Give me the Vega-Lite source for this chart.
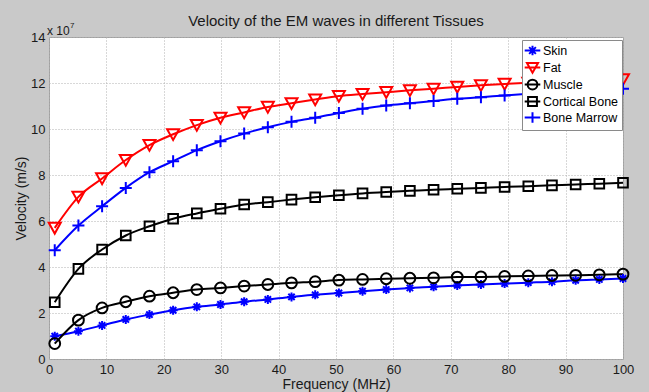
{
  "$schema": "https://vega.github.io/schema/vega-lite/v6.json",
  "width": 574,
  "height": 322,
  "autosize": {"type": "none"},
  "padding": {"left": 49, "top": 37, "right": 26, "bottom": 33},
  "background": "#c9c9c9",
  "title": {"text": "Velocity of the EM waves in different Tissues", "fontSize": 15, "font": "Liberation Sans", "fontWeight": "normal", "color": "#1a1a1a", "offset": -7, "anchor": "middle"},
  "data": {"values": [
    {"s":"Skin","f":1,"v":0.99},{"s":"Skin","f":5.125,"v":1.21},{"s":"Skin","f":9.25,"v":1.46},{"s":"Skin","f":13.375,"v":1.72},{"s":"Skin","f":17.5,"v":1.93},{"s":"Skin","f":21.625,"v":2.12},{"s":"Skin","f":25.75,"v":2.27},{"s":"Skin","f":29.875,"v":2.37},{"s":"Skin","f":34,"v":2.49},{"s":"Skin","f":38.125,"v":2.59},{"s":"Skin","f":42.25,"v":2.7},{"s":"Skin","f":46.375,"v":2.79},{"s":"Skin","f":50.5,"v":2.87},{"s":"Skin","f":54.625,"v":2.95},{"s":"Skin","f":58.75,"v":3.02},{"s":"Skin","f":62.875,"v":3.09},{"s":"Skin","f":67,"v":3.14},{"s":"Skin","f":71.125,"v":3.2},{"s":"Skin","f":75.25,"v":3.24},{"s":"Skin","f":79.375,"v":3.28},{"s":"Skin","f":83.5,"v":3.32},{"s":"Skin","f":87.625,"v":3.36},{"s":"Skin","f":91.75,"v":3.42},{"s":"Skin","f":95.875,"v":3.46},{"s":"Skin","f":100,"v":3.5},
    {"s":"Fat","f":1,"v":5.7},{"s":"Fat","f":5.125,"v":7.05},{"s":"Fat","f":9.25,"v":7.85},{"s":"Fat","f":13.375,"v":8.65},{"s":"Fat","f":17.5,"v":9.3},{"s":"Fat","f":21.625,"v":9.77},{"s":"Fat","f":25.75,"v":10.17},{"s":"Fat","f":29.875,"v":10.49},{"s":"Fat","f":34,"v":10.72},{"s":"Fat","f":38.125,"v":10.96},{"s":"Fat","f":42.25,"v":11.12},{"s":"Fat","f":46.375,"v":11.28},{"s":"Fat","f":50.5,"v":11.43},{"s":"Fat","f":54.625,"v":11.52},{"s":"Fat","f":58.75,"v":11.6},{"s":"Fat","f":62.875,"v":11.68},{"s":"Fat","f":67,"v":11.75},{"s":"Fat","f":71.125,"v":11.83},{"s":"Fat","f":75.25,"v":11.9},{"s":"Fat","f":79.375,"v":11.96},{"s":"Fat","f":83.5,"v":12.01},{"s":"Fat","f":87.625,"v":12.05},{"s":"Fat","f":91.75,"v":12.09},{"s":"Fat","f":95.875,"v":12.13},{"s":"Fat","f":100,"v":12.16},
    {"s":"Muscle","f":1,"v":0.67},{"s":"Muscle","f":5.125,"v":1.69},{"s":"Muscle","f":9.25,"v":2.22},{"s":"Muscle","f":13.375,"v":2.49},{"s":"Muscle","f":17.5,"v":2.73},{"s":"Muscle","f":21.625,"v":2.88},{"s":"Muscle","f":25.75,"v":3.02},{"s":"Muscle","f":29.875,"v":3.09},{"s":"Muscle","f":34,"v":3.17},{"s":"Muscle","f":38.125,"v":3.24},{"s":"Muscle","f":42.25,"v":3.31},{"s":"Muscle","f":46.375,"v":3.36},{"s":"Muscle","f":50.5,"v":3.43},{"s":"Muscle","f":54.625,"v":3.46},{"s":"Muscle","f":58.75,"v":3.49},{"s":"Muscle","f":62.875,"v":3.51},{"s":"Muscle","f":67,"v":3.53},{"s":"Muscle","f":71.125,"v":3.56},{"s":"Muscle","f":75.25,"v":3.57},{"s":"Muscle","f":79.375,"v":3.59},{"s":"Muscle","f":83.5,"v":3.61},{"s":"Muscle","f":87.625,"v":3.63},{"s":"Muscle","f":91.75,"v":3.64},{"s":"Muscle","f":95.875,"v":3.66},{"s":"Muscle","f":100,"v":3.69},
    {"s":"Cortical Bone","f":1,"v":2.47},{"s":"Cortical Bone","f":5.125,"v":3.92},{"s":"Cortical Bone","f":9.25,"v":4.76},{"s":"Cortical Bone","f":13.375,"v":5.37},{"s":"Cortical Bone","f":17.5,"v":5.77},{"s":"Cortical Bone","f":21.625,"v":6.1},{"s":"Cortical Bone","f":25.75,"v":6.33},{"s":"Cortical Bone","f":29.875,"v":6.53},{"s":"Cortical Bone","f":34,"v":6.72},{"s":"Cortical Bone","f":38.125,"v":6.82},{"s":"Cortical Bone","f":42.25,"v":6.93},{"s":"Cortical Bone","f":46.375,"v":7.03},{"s":"Cortical Bone","f":50.5,"v":7.12},{"s":"Cortical Bone","f":54.625,"v":7.2},{"s":"Cortical Bone","f":58.75,"v":7.26},{"s":"Cortical Bone","f":62.875,"v":7.31},{"s":"Cortical Bone","f":67,"v":7.36},{"s":"Cortical Bone","f":71.125,"v":7.4},{"s":"Cortical Bone","f":75.25,"v":7.44},{"s":"Cortical Bone","f":79.375,"v":7.48},{"s":"Cortical Bone","f":83.5,"v":7.51},{"s":"Cortical Bone","f":87.625,"v":7.55},{"s":"Cortical Bone","f":91.75,"v":7.59},{"s":"Cortical Bone","f":95.875,"v":7.62},{"s":"Cortical Bone","f":100,"v":7.66},
    {"s":"Bone Marrow","f":1,"v":4.73},{"s":"Bone Marrow","f":5.125,"v":5.8},{"s":"Bone Marrow","f":9.25,"v":6.64},{"s":"Bone Marrow","f":13.375,"v":7.44},{"s":"Bone Marrow","f":17.5,"v":8.12},{"s":"Bone Marrow","f":21.625,"v":8.6},{"s":"Bone Marrow","f":25.75,"v":9.08},{"s":"Bone Marrow","f":29.875,"v":9.47},{"s":"Bone Marrow","f":34,"v":9.8},{"s":"Bone Marrow","f":38.125,"v":10.08},{"s":"Bone Marrow","f":42.25,"v":10.31},{"s":"Bone Marrow","f":46.375,"v":10.49},{"s":"Bone Marrow","f":50.5,"v":10.7},{"s":"Bone Marrow","f":54.625,"v":10.88},{"s":"Bone Marrow","f":58.75,"v":11.02},{"s":"Bone Marrow","f":62.875,"v":11.12},{"s":"Bone Marrow","f":67,"v":11.22},{"s":"Bone Marrow","f":71.125,"v":11.31},{"s":"Bone Marrow","f":75.25,"v":11.38},{"s":"Bone Marrow","f":79.375,"v":11.46},{"s":"Bone Marrow","f":83.5,"v":11.53},{"s":"Bone Marrow","f":87.625,"v":11.59},{"s":"Bone Marrow","f":91.75,"v":11.65},{"s":"Bone Marrow","f":95.875,"v":11.7},{"s":"Bone Marrow","f":100,"v":11.75}
  ]},
  "encoding": {
    "x": {"field": "f", "type": "quantitative", "scale": {"domain": [0, 100], "nice": false, "zero": false},
          "axis": {"title": "Frequency (MHz)", "values": [0,10,20,30,40,50,60,70,80,90,100], "labelFlush": false}},
    "y": {"field": "v", "type": "quantitative", "scale": {"domain": [0, 14], "nice": false},
          "axis": {"title": "Velocity (m/s)", "values": [0,2,4,6,8,10,12,14]}}
  },
  "layer": [
    {
      "mark": {"type": "line", "interpolate": "monotone", "strokeWidth": 2},
      "encoding": {
        "color": {"field": "s", "type": "nominal", "legend": null,
                  "scale": {"domain": ["Skin","Fat","Muscle","Cortical Bone","Bone Marrow"], "range": ["#0000ff","#ff0000","#000000","#000000","#0000ff"]}}
      }
    },
    {
      "mark": {"type": "point", "filled": false, "strokeWidth": 2, "size": 144, "opacity": 1},
      "encoding": {
        "color": {"field": "s", "type": "nominal", "legend": null,
                  "scale": {"domain": ["Skin","Fat","Muscle","Cortical Bone","Bone Marrow"], "range": ["#0000ff","#ff0000","#000000","#000000","#0000ff"]}},
        "shape": {"field": "s", "type": "nominal", "legend": null,
                  "scale": {"domain": ["Skin","Fat","Muscle","Cortical Bone","Bone Marrow"],
                            "range": ["M-0.75,0H0.75M0,-0.75V0.75M-0.53,-0.53L0.53,0.53M-0.53,0.53L0.53,-0.53",
                                      "M-1,-0.85L1,-0.85L0,0.95Z",
                                      "M0.9,0A0.9,0.9 0 1 1 -0.9,0A0.9,0.9 0 1 1 0.9,0Z",
                                      "M-0.8,-0.8H0.8V0.8H-0.8Z",
                                      "M-1,0H1M0,-1V1"]}}
      }
    },
    {
      "mark": {"type": "point", "filled": false, "strokeWidth": 2, "opacity": 0},
      "encoding": {
        "color": {"field": "s", "type": "nominal", "title": null,
                  "scale": {"domain": ["Skin","Fat","Muscle","Cortical Bone","Bone Marrow"], "range": ["#0000ff","#ff0000","#000000","#000000","#0000ff"]}},
        "shape": {"field": "s", "type": "nominal", "title": null,
                  "scale": {"domain": ["Skin","Fat","Muscle","Cortical Bone","Bone Marrow"],
                            "range": ["M-1.2,0H1.2M0,-0.72V0.72M-0.52,-0.52L0.52,0.52M-0.52,0.52L0.52,-0.52",
                                      "M-1.2,0H1.2M-0.85,-0.68L0.85,-0.68L0,0.8Z",
                                      "M-1.2,0H1.2M0.75,0A0.75,0.75 0 1 1 -0.75,0A0.75,0.75 0 1 1 0.75,0",
                                      "M-1.2,0H1.2M-0.68,-0.68H0.68V0.68H-0.68Z",
                                      "M-1.2,0H1.2M0,-0.8V0.8"]}}
      }
    },
    {
      "data": {"values": [{"f": 0, "v": 14}]},
      "mark": {"type": "text", "text": "x 10", "align": "left", "baseline": "alphabetic", "dx": -2, "dy": -2, "fontSize": 12, "font": "Liberation Sans", "color": "#1a1a1a"}
    },
    {
      "data": {"values": [{"f": 0, "v": 14}]},
      "mark": {"type": "text", "text": "7", "align": "left", "baseline": "alphabetic", "dx": 21, "dy": -9, "fontSize": 8, "font": "Liberation Sans", "color": "#1a1a1a"}
    }
  ],
  "resolve": {"scale": {"color": "independent", "shape": "independent"}},
  "config": {
    "font": "Liberation Sans",
    "view": {"fill": "white", "stroke": "#a0a0a0", "strokeWidth": 1},
    "axis": {"labelFont": "Liberation Sans", "labelFontSize": 13, "labelColor": "#1a1a1a",
             "titleFont": "Liberation Sans", "titleFontSize": 14, "titleFontWeight": "normal", "titleColor": "#1a1a1a",
             "ticks": false, "domain": false, "grid": true, "gridColor": "#b0b0b0", "gridDash": [1, 2], "gridWidth": 1,
             "labelPadding": 4},
    "axisX": {"titlePadding": 1},
    "axisY": {"titlePadding": 2},
    "legend": {"orient": "none", "legendX": 473, "legendY": 3, "padding": 3, "rowPadding": -2,
               "symbolSize": 169, "symbolStrokeWidth": 2, "symbolOpacity": 1, "labelOffset": 3,
               "labelFont": "Liberation Sans", "labelFontSize": 12.5, "labelColor": "#000000",
               "strokeColor": "#8a8a8a", "fillColor": "#ffffff", "cornerRadius": 0}
  }
}
